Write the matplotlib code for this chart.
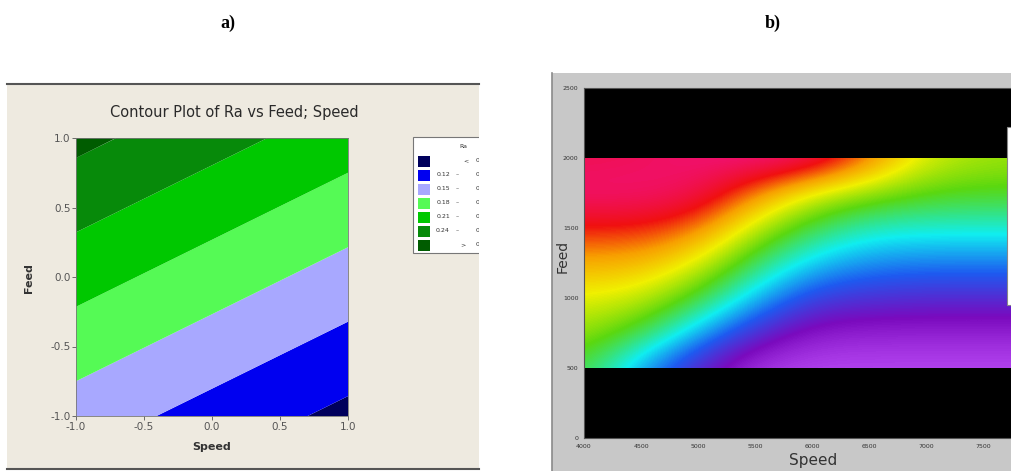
import numpy as np
import matplotlib.pyplot as plt
from matplotlib.colors import LinearSegmentedColormap
from matplotlib.patches import Rectangle

W, H = 1011, 471

# ---- panel a: Ra response at the 3x3 coded design points ----
speed_coded = [-1.0, 0.0, 1.0]
feed_coded = [-1.0, 0.0, 1.0]
ra_grid = [  # rows: feed -1, 0, 1 ; cols: speed -1, 0, 1
    [0.166, 0.139, 0.112],
    [0.222, 0.195, 0.168],
    [0.278, 0.251, 0.224],
]
ra_levels = [0.0, 0.12, 0.15, 0.18, 0.21, 0.24, 0.27, 0.40]
ra_colors = ["#00005c", "#0000f0", "#a8a8ff", "#55fa55",
             "#00c800", "#078a0a", "#005c00"]
ra_legend = [("", "<", "0.12"), ("0.12", "\u2013", "0.15"),
             ("0.15", "\u2013", "0.18"), ("0.18", "\u2013", "0.21"),
             ("0.21", "\u2013", "0.24"), ("0.24", "\u2013", "0.27"),
             ("", ">", "0.27")]

# ---- panel b: response surface sampled over speed / feed ----
speeds = [4000, 4500, 5000, 5500, 6000, 6500, 7000, 7500, 8000]
feeds = [500, 750, 1000, 1250, 1500, 1750, 2000]
response = [
    [0.45, 0.27, 0.13, 0.02, 0.00, 0.00, 0.00, 0.00, 0.00],
    [0.53, 0.45, 0.29, 0.15, 0.07, 0.06, 0.06, 0.06, 0.06],
    [0.59, 0.57, 0.46, 0.30, 0.18, 0.16, 0.15, 0.15, 0.15],
    [0.68, 0.67, 0.59, 0.43, 0.31, 0.26, 0.25, 0.25, 0.25],
    [0.79, 0.79, 0.73, 0.56, 0.44, 0.37, 0.36, 0.36, 0.36],
    [0.91, 0.91, 0.88, 0.72, 0.58, 0.52, 0.48, 0.47, 0.47],
    [0.87, 0.88, 0.91, 0.93, 0.90, 0.74, 0.58, 0.54, 0.53],
]
rainbow = LinearSegmentedColormap.from_list("rainbow_ra", [
    (0.00, "#b444f0"), (0.10, "#7a0abe"), (0.22, "#1e5af0"),
    (0.34, "#10eef0"), (0.48, "#5ad810"), (0.60, "#f0f000"),
    (0.70, "#f8a000"), (0.80, "#f01010"), (0.92, "#f0107a"),
    (1.00, "#f0107a")])


def px_axes(fig, x0, y0, x1, y1):
    return fig.add_axes([x0 / W, 1 - y1 / H, (x1 - x0) / W, (y1 - y0) / H])


fig = plt.figure(figsize=(W / 100, H / 100), dpi=100)
fig.patch.set_facecolor("white")

fig.text(228 / W, 1 - 23 / H, "a)", family="Liberation Serif", weight="bold",
         fontsize=13, ha="center", va="center")
fig.text(773 / W, 1 - 23 / H, "b)", family="Liberation Serif", weight="bold",
         fontsize=13, ha="center", va="center")

# panel a frame, in pixel units so the legend can be clipped at its edge
bg_a = px_axes(fig, 7, 84, 479, 469)
bg_a.set_facecolor("#eeeae0")
bg_a.set_xlim(7, 479)
bg_a.set_ylim(469, 84)
bg_a.set_xticks([])
bg_a.set_yticks([])
for side in ("left", "right"):
    bg_a.spines[side].set_visible(False)
for side in ("top", "bottom"):
    bg_a.spines[side].set_color("#555555")
    bg_a.spines[side].set_linewidth(1.5)

bg_a.add_patch(Rectangle((413, 137), 120, 116, facecolor="white",
                         edgecolor="#777777", lw=0.8, clip_on=True))
bg_a.text(463, 147, "Ra", fontsize=4.5, ha="center", va="center",
          color="#333333", clip_on=True)
for i, (lo, sym, hi) in enumerate(ra_legend):
    yc = 161 + 14 * i
    bg_a.add_patch(Rectangle((418, yc - 5.5), 12, 11, facecolor=ra_colors[i],
                             edgecolor="none", clip_on=True))
    if lo:
        bg_a.text(450, yc, lo, fontsize=4.5, ha="right", va="center",
                  color="#333333", clip_on=True)
    bg_a.text(466 if sym == "<" else (463 if sym == ">" else 457), yc, sym,
              fontsize=4.5, ha="center", va="center", color="#333333",
              clip_on=True)
    bg_a.text(476, yc, hi, fontsize=4.5, ha="left", va="center",
              color="#333333", clip_on=True)

ax_a = px_axes(fig, 76, 138, 348, 416)
ax_a.contourf(speed_coded, feed_coded, ra_grid, levels=ra_levels,
              colors=ra_colors, antialiased=True)
ax_a.set_xlim(-1, 1)
ax_a.set_ylim(-1, 1)
ticks = [-1.0, -0.5, 0.0, 0.5, 1.0]
ax_a.set_xticks(ticks)
ax_a.set_yticks(ticks)
ax_a.set_xticklabels([f"{t:.1f}" for t in ticks])
ax_a.set_yticklabels([f"{t:.1f}" for t in ticks])
ax_a.tick_params(labelsize=7.5, colors="#555555", length=3, width=0.6, pad=1)
for sp in ax_a.spines.values():
    sp.set_color("#777777")
    sp.set_linewidth(0.6)
fig.text(234 / W, 1 - 112 / H, "Contour Plot of Ra vs Feed; Speed",
         fontsize=10.5, color="#2a2a2a", ha="center", va="center")
fig.text(212 / W, 1 - 447 / H, "Speed", fontsize=8, weight="bold",
         color="#333333", ha="center", va="center")
fig.text(29 / W, 1 - 278 / H, "Feed", fontsize=8, weight="bold",
         color="#333333", ha="center", va="center", rotation=90)

# panel b frame
bg_b = px_axes(fig, 552, 73, 1011, 471)
bg_b.set_facecolor("#c8c8c8")
bg_b.set_xticks([])
bg_b.set_yticks([])
for side in ("top", "right", "bottom"):
    bg_b.spines[side].set_visible(False)
bg_b.spines["left"].set_color("#8a8a8a")
bg_b.spines["left"].set_linewidth(1.2)

ax_b = px_axes(fig, 584, 88, 1040, 438)
ax_b.set_facecolor("black")
ax_b.set_xlim(4000, 8000)
ax_b.set_ylim(0, 2500)
ds = speeds[1] - speeds[0]
df = feeds[1] - feeds[0]
img = ax_b.imshow(np.array(response), cmap=rainbow, vmin=0, vmax=1,
                  origin="lower", aspect="auto", interpolation="bicubic",
                  extent=(speeds[0] - ds / 2, speeds[-1] + ds / 2,
                          feeds[0] - df / 2, feeds[-1] + df / 2))
band = Rectangle((speeds[0], feeds[0]), speeds[-1] - speeds[0],
                 feeds[-1] - feeds[0], transform=ax_b.transData,
                 facecolor="none", edgecolor="none")
ax_b.add_patch(band)
img.set_clip_path(band)
ax_b.set_xticks([4000, 4500, 5000, 5500, 6000, 6500, 7000, 7500])
ax_b.set_yticks([0, 500, 1000, 1500, 2000, 2500])
ax_b.tick_params(labelsize=4.5, colors="#333333", length=0, pad=4)
for sp in ax_b.spines.values():
    sp.set_color("#555555")
    sp.set_linewidth(0.8)
fig.text(813 / W, 1 - 461 / H, "Speed", fontsize=11, color="#333333",
         ha="center", va="center")
fig.text(563 / W, 1 - 256 / H, "Feed", fontsize=10, color="#333333",
         ha="center", va="center", rotation=90)

# edge of the colour key box sitting at the right margin
fig.patches.append(Rectangle((1007 / W, 1 - 305 / H), 40 / W, 178 / H,
                             transform=fig.transFigure, facecolor="white",
                             edgecolor="#888888", lw=0.8, zorder=5))

fig.savefig("out.png", dpi=100)
